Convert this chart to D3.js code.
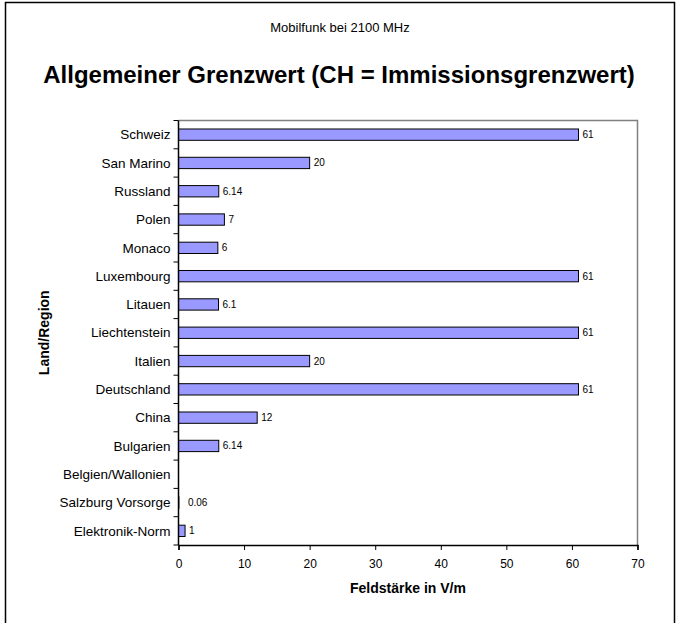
<!DOCTYPE html>
<html>
<head>
<meta charset="utf-8">
<script src="https://cdn.jsdelivr.net/npm/d3@7"></script>
<style>
  body { margin: 0; background: #fff; }
  text { font-family: Arial, "Liberation Sans", sans-serif; }
</style>
</head>
<body>
<div class="chart"></div>
<script>
/*** DATA ***/
const regions = ['Schweiz', 'San Marino', 'Russland', 'Polen', 'Monaco', 'Luxembourg', 'Litauen',
  'Liechtenstein', 'Italien', 'Deutschland', 'China', 'Bulgarien', 'Belgien/Wallonien',
  'Salzburg Vorsorge', 'Elektronik-Norm'];
const values = [61, 20, 6.14, 7, 6, 61, 6.1, 61, 20, 61, 12, 6.14, null, 0.06, 1];
const xTicks = [0, 10, 20, 30, 40, 50, 60, 70];

/*** LAYOUT ***/
const width = 676, height = 623;
const margin = { top: 120.5, left: 178.5, right: 38.5, bottom: 78 };

const svg = d3.select('.chart')
  .append('svg')
  .attr('width', width)
  .attr('height', height);

// outer frame
svg.append('rect')
  .attr('x', 5.5).attr('y', 2.5)
  .attr('width', 669).attr('height', 660)
  .attr('fill', 'none')
  .attr('stroke', '#000')
  .attr('stroke-width', 1.5);

const x = d3.scaleLinear()
  .domain([0, 70])
  .range([margin.left, width - margin.right]);

const y = d3.scaleBand()
  .domain(regions)
  .range([margin.top, height - margin.bottom])
  .paddingInner(0.6)
  .paddingOuter(0.3);

// plot frame (top + right in grey)
svg.append('path')
  .attr('d', `M${x(0)},${margin.top}H${x(70)}V${height - margin.bottom}`)
  .attr('fill', 'none')
  .attr('stroke', '#808080')
  .attr('stroke-width', 1.5);

// bars
const data = regions.map((r, i) => ({ region: r, value: values[i] }));

svg.append('g')
  .selectAll('rect')
  .data(data.filter(d => d.value !== null))
  .join('rect')
  .attr('x', x(0))
  .attr('y', d => y(d.region))
  .attr('width', d => x(d.value) - x(0))
  .attr('height', y.bandwidth())
  .attr('fill', '#9999ff')
  .attr('stroke', '#000')
  .attr('stroke-width', 1);

// value labels
svg.append('g')
  .selectAll('text')
  .data(data.filter(d => d.value !== null))
  .join('text')
  .attr('x', d => x(d.value) + (d.value < 0.5 ? 9 : 4))
  .attr('y', d => y(d.region) + y.bandwidth() / 2)
  .attr('dy', '0.35em')
  .style('font-size', '10px')
  .style('fill', '#000')
  .text(d => d.value);

// x axis
const xAxis = svg.append('g')
  .attr('transform', `translate(0, ${height - margin.bottom})`)
  .call(d3.axisBottom(x).tickValues(xTicks).tickSize(5).tickPadding(9));
xAxis.select('.domain').attr('stroke', '#000').attr('stroke-width', 1.5);
xAxis.selectAll('text').style('font-size', '12px').style('font-family', 'Arial, "Liberation Sans", sans-serif');

// y axis: ticks at category boundaries
const step = y.step();
const yAxis = svg.append('g');
yAxis.append('line')
  .attr('x1', x(0)).attr('x2', x(0))
  .attr('y1', margin.top).attr('y2', height - margin.bottom)
  .attr('stroke', '#000').attr('stroke-width', 1.5);
yAxis.selectAll('.ytick')
  .data(d3.range(regions.length + 1))
  .join('line')
  .attr('class', 'ytick')
  .attr('x1', x(0) - 5).attr('x2', x(0))
  .attr('y1', i => margin.top + i * step)
  .attr('y2', i => margin.top + i * step)
  .attr('stroke', '#000');
yAxis.selectAll('.ylabel')
  .data(regions)
  .join('text')
  .attr('class', 'ylabel')
  .attr('x', x(0) - 8)
  .attr('y', d => y(d) + y.bandwidth() / 2)
  .attr('dy', '0.35em')
  .attr('text-anchor', 'end')
  .style('font-size', '13.5px')
  .text(d => d);

// titles
svg.append('text')
  .attr('x', 340).attr('y', 32)
  .attr('text-anchor', 'middle')
  .style('font-size', '13px')
  .text('Mobilfunk bei 2100 MHz');

svg.append('text')
  .attr('x', 339).attr('y', 83)
  .attr('text-anchor', 'middle')
  .style('font-size', '24px')
  .style('font-weight', 'bold')
  .text('Allgemeiner Grenzwert (CH = Immissionsgrenzwert)');

svg.append('text')
  .attr('x', (x(0) + x(70)) / 2).attr('y', 593)
  .attr('text-anchor', 'middle')
  .style('font-size', '14px')
  .style('font-weight', 'bold')
  .text('Feldstärke in V/m');

svg.append('text')
  .attr('transform', `translate(49, ${(margin.top + height - margin.bottom) / 2}) rotate(-90)`)
  .attr('text-anchor', 'middle')
  .style('font-size', '14px')
  .style('font-weight', 'bold')
  .text('Land/Region');
</script>
</body>
</html>
